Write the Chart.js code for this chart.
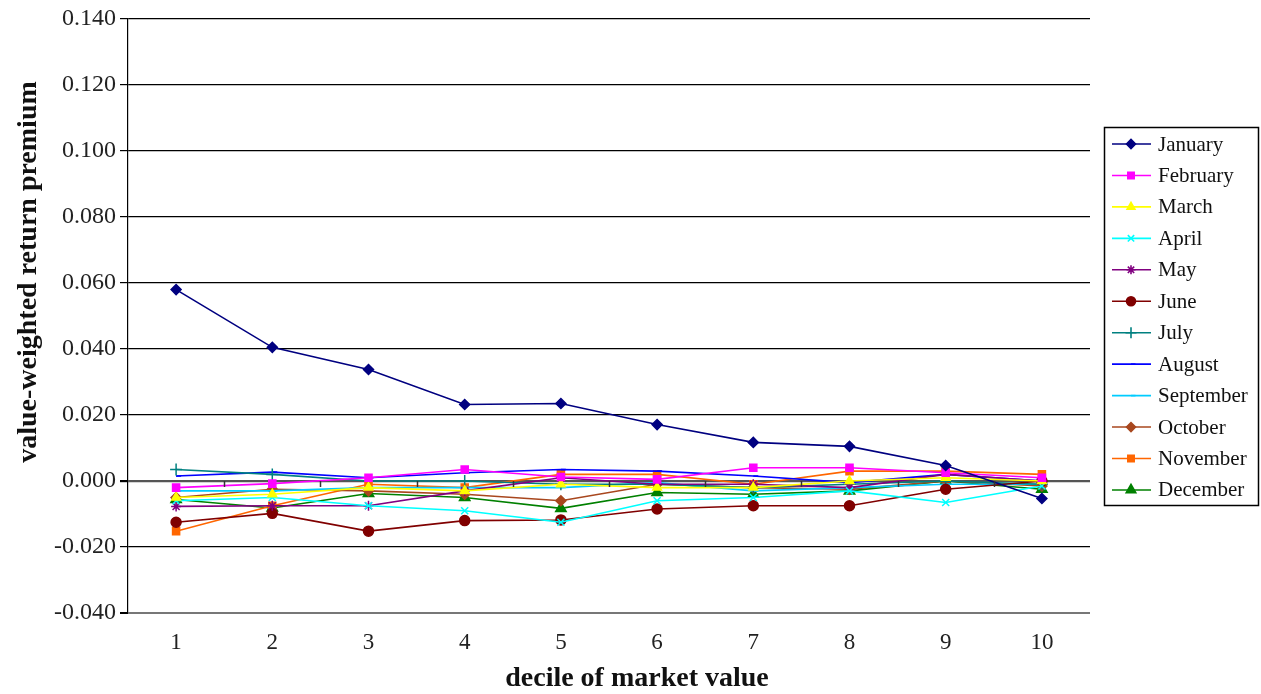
<!DOCTYPE html>
<html>
<head>
<meta charset="utf-8">
<script src="https://cdn.jsdelivr.net/npm/chart.js@4.4.0/dist/chart.umd.min.js"></script>
<style>
  html, body { margin: 0; padding: 0; background: #fff; }
  #wrap { width: 1261px; height: 694px; position: relative; }
</style>
</head>
<body>
<div id="wrap"><canvas id="c" width="1261" height="694"></canvas></div>
<script>
// Deciles of market value (x categories)
const deciles = ['1', '2', '3', '4', '5', '6', '7', '8', '9', '10'];

// Value-weighted return premium per month, decile 1..10
const january   = [0.058, 0.0405, 0.0338, 0.0232, 0.0235, 0.0171, 0.0117, 0.0105, 0.0047, -0.0053];
const february  = [-0.002, -0.0008, 0.001, 0.0035, 0.0012, 0.0005, 0.004, 0.004, 0.0025, 0.001];
const march     = [-0.005, -0.004, -0.002, -0.003, -0.001, -0.002, -0.002, 0.000, 0.001, 0.000];
const april     = [-0.006, -0.005, -0.0075, -0.009, -0.0125, -0.006, -0.005, -0.003, -0.0065, -0.0015];
const may       = [-0.0077, -0.0075, -0.0075, -0.003, 0.001, -0.001, -0.001, -0.002, 0.002, 0.000];
const june      = [-0.0125, -0.0098, -0.0152, -0.012, -0.0118, -0.0085, -0.0075, -0.0075, -0.0025, 0.000];
const july      = [0.0035, 0.002, 0.000, 0.000, -0.001, -0.001, -0.002, -0.001, 0.000, -0.001];
const august    = [0.0015, 0.0027, 0.001, 0.0025, 0.0035, 0.003, 0.0015, -0.0005, 0.002, 0.000];
const september = [-0.003, -0.003, -0.002, -0.002, -0.002, -0.0005, -0.003, -0.002, -0.001, -0.001];
const october   = [-0.005, -0.0025, -0.003, -0.004, -0.006, -0.001, -0.002, -0.0025, 0.000, -0.0015];
const november  = [-0.0152, -0.0075, -0.001, -0.002, 0.002, 0.002, -0.001, 0.003, 0.003, 0.002];
const december  = [-0.0056, -0.0082, -0.0038, -0.005, -0.0083, -0.0035, -0.004, -0.003, 0.000, -0.0025];

// Y-axis tick values
const yTicks = [-0.04, -0.02, 0.00, 0.02, 0.04, 0.06, 0.08, 0.10, 0.12, 0.14];

const SERIF = '"Liberation Serif", "Times New Roman", serif';

const seriesDefs = [
  { label: 'January',   data: january,   color: '#000080', style: 'rectRot',  r: 5 },
  { label: 'February',  data: february,  color: '#FF00FF', style: 'rect',     r: 5 },
  { label: 'March',     data: march,     color: '#FFFF00', style: 'triangle', r: 5 },
  { label: 'April',     data: april,     color: '#00FFFF', style: 'crossRot', r: 5 },
  { label: 'May',       data: may,       color: '#800080', style: 'star',     r: 5 },
  { label: 'June',      data: june,      color: '#800000', style: 'circle',   r: 5 },
  { label: 'July',      data: july,      color: '#008080', style: 'cross',    r: 6 },
  { label: 'August',    data: august,    color: '#0000FF', style: 'dash',     r: 5 },
  { label: 'September', data: september, color: '#00CCFF', style: 'dash',     r: 5 },
  { label: 'October',   data: october,   color: '#A8471E', style: 'rectRot',  r: 5 },
  { label: 'November',  data: november,  color: '#FF6600', style: 'rect',     r: 5 },
  { label: 'December',  data: december,  color: '#008000', style: 'triangle', r: 6 }
];

const datasets = seriesDefs.map(s => ({
  label: s.label,
  data: s.data,
  borderColor: s.color,
  backgroundColor: s.color,
  pointBackgroundColor: s.color,
  pointBorderColor: s.color,
  pointStyle: s.style,
  pointRadius: s.r,
  pointBorderWidth: 1.5,
  borderWidth: 1.6,
  tension: 0,
  fill: false
}));

// Tick marks on the zero line at category boundaries, axis titles and the boxed legend
const extras = {
  id: 'extras',
  afterDatasetsDraw(chart) {
    const { ctx, chartArea } = chart;
    const ys = chart.scales.y;
    const y0 = ys.getPixelForValue(0);
    const step = (chartArea.right - chartArea.left) / deciles.length;
    ctx.save();
    ctx.strokeStyle = '#333';
    ctx.lineWidth = 1.5;
    for (let i = 1; i < deciles.length; i++) {
      const x = Math.round(chartArea.left + i * step) + 0.5;
      ctx.beginPath();
      ctx.moveTo(x, y0);
      ctx.lineTo(x, y0 + 6);
      ctx.stroke();
    }
    ctx.restore();
  },
  afterDraw(chart) {
    const { ctx } = chart;
    ctx.save();
    ctx.fillStyle = '#111';
    ctx.font = 'bold 28px ' + SERIF;
    ctx.textAlign = 'center';
    ctx.textBaseline = 'middle';
    // x-axis title
    ctx.fillText('decile of market value', 637, 679);
    // y-axis title
    ctx.save();
    ctx.translate(29, 272);
    ctx.rotate(-Math.PI / 2);
    ctx.fillText('value-weighted return premium', 0, 0);
    ctx.restore();

    // legend box
    const bx = 1104.5, by = 127.5, bw = 154, bh = 378;
    ctx.fillStyle = '#fff';
    ctx.fillRect(bx, by, bw, bh);
    ctx.strokeStyle = '#000';
    ctx.lineWidth = 1.5;
    ctx.strokeRect(bx, by, bw, bh);
    const rowH = 31.45;
    ctx.font = '21px ' + SERIF;
    ctx.textAlign = 'left';
    chart.data.datasets.forEach((ds, i) => {
      const cy = 144 + i * rowH;
      ctx.strokeStyle = ds.borderColor;
      ctx.fillStyle = ds.borderColor;
      ctx.lineWidth = 1.6;
      ctx.beginPath();
      ctx.moveTo(1112, cy);
      ctx.lineTo(1151, cy);
      ctx.stroke();
      Chart.helpers.drawPoint(ctx, {
        pointStyle: ds.pointStyle,
        radius: ds.pointRadius - 0.5,
        rotation: 0,
        borderWidth: ds.pointBorderWidth
      }, 1131, cy);
      ctx.fillStyle = '#111';
      ctx.fillText(ds.label, 1158, cy + 1);
    });
    ctx.restore();
  }
};

new Chart(document.getElementById('c'), {
  type: 'line',
  data: { labels: deciles, datasets },
  options: {
    responsive: false,
    devicePixelRatio: 1,
    animation: false,
    layout: { padding: { top: 19, right: 171, left: 0, bottom: 0 } },
    plugins: {
      legend: { display: false },
      tooltip: { enabled: false }
    },
    scales: {
      x: {
        type: 'category',
        offset: true,
        grid: { display: false, drawTicks: false },
        border: { display: false },
        ticks: {
          padding: 16,
          color: '#222',
          font: { family: SERIF, size: 23 }
        },
        afterFit(scale) { scale.height = 81; }
      },
      y: {
        min: -0.04,
        max: 0.14,
        afterBuildTicks(scale) { scale.ticks = yTicks.map(v => ({ value: v })); },
        grid: {
          drawTicks: true,
          tickLength: 8,
          tickColor: '#000',
          color(ctx) {
            const v = ctx.tick && ctx.tick.value;
            if (Math.abs(v) < 1e-9) return '#555';
            if (Math.abs(v + 0.04) < 1e-9) return '#777';
            return '#000';
          },
          lineWidth(ctx) {
            const v = ctx.tick && ctx.tick.value;
            if (Math.abs(v) < 1e-9) return 2.2;
            if (Math.abs(v + 0.04) < 1e-9) return 2;
            return 1.2;
          }
        },
        border: { display: true, color: '#000', width: 1.2 },
        ticks: {
          padding: 4,
          color: '#222',
          font: { family: SERIF, size: 24 },
          callback: v => Number(v).toFixed(3)
        },
        title: { display: false },
        afterFit(scale) { scale.width = 128; }
      }
    }
  },
  plugins: [extras]
});
</script>
</body>
</html>
